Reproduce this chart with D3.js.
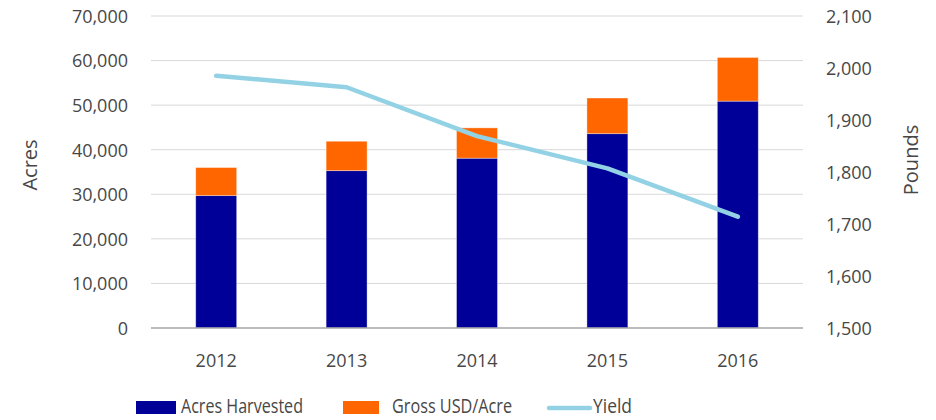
<!DOCTYPE html>
<html>
<head>
<meta charset="utf-8">
<script src="https://cdn.jsdelivr.net/npm/d3@7"></script>
<style>
  body { margin: 0; background: #fff; }
  svg text { font-family: "Open Sans", sans-serif; fill: #474747; }
</style>
</head>
<body>
<svg id="chart" width="936" height="420"></svg>
<script>
// data
const years = ["2012", "2013", "2014", "2015", "2016"];
const acresHarvested = [29700, 35300, 38100, 43600, 50900];
const grossUsdAcre = [6300, 6600, 6800, 8000, 9800];
const yieldLbs = [1985, 1963, 1869, 1807, 1714];
const leftTicks = [0, 10000, 20000, 30000, 40000, 50000, 60000, 70000];
const rightTicks = [1500, 1600, 1700, 1800, 1900, 2000, 2100];

const svg = d3.select('#chart');
const plotL = 151, plotR = 803, plotT = 16, plotB = 328;

const x = d3.scaleBand().domain(years).range([plotL, plotR]).paddingInner(0.686).paddingOuter(0.343);
const yL = d3.scaleLinear().domain([0, 70000]).range([plotB, plotT]);
const yR = d3.scaleLinear().domain([1500, 2100]).range([plotB, plotT]);
const fmt = d3.format(',');

// gridlines
svg.append('g')
  .selectAll('line')
  .data(leftTicks.slice(1))
  .join('line')
  .attr('x1', plotL).attr('x2', plotR)
  .attr('y1', d => yL(d)).attr('y2', d => yL(d))
  .attr('stroke', '#d9d9d9').attr('stroke-width', 1);

// left axis labels
const gl = svg.append('g')
  .attr('transform', `translate(${plotL - 23},0)`)
  .call(d3.axisLeft(yL).tickValues(leftTicks).tickFormat(fmt).tickSize(0));
gl.select('.domain').remove();
gl.selectAll('text').style('font-size', '18px').attr('dy', '0.35em').attr('x', 0);

// right axis labels
const gr = svg.append('g')
  .attr('transform', `translate(${plotR + 23},0)`)
  .call(d3.axisRight(yR).tickValues(rightTicks).tickFormat(fmt).tickSize(0));
gr.select('.domain').remove();
gr.selectAll('text').style('font-size', '18px').attr('dy', '0.35em').attr('x', 0);

// stacked bars
const stackData = years.map((y, i) => ({ year: y, acres: acresHarvested[i], gross: grossUsdAcre[i] }));
const series = d3.stack().keys(['acres', 'gross'])(stackData);
const colors = { acres: '#000099', gross: '#ff6600' };

svg.append('g')
  .selectAll('g')
  .data(series)
  .join('g')
  .attr('fill', d => colors[d.key])
  .selectAll('rect')
  .data(d => d)
  .join('rect')
  .attr('x', d => x(d.data.year))
  .attr('width', x.bandwidth())
  .attr('y', d => yL(d[1]))
  .attr('height', d => yL(d[0]) - yL(d[1]))
  .attr('stroke', 'rgba(255,255,255,0.45)')
  .attr('stroke-width', 0.8);

// baseline
svg.append('line')
  .attr('x1', plotL).attr('x2', plotR)
  .attr('y1', yL(0)).attr('y2', yL(0))
  .attr('stroke', '#a6a6a6').attr('stroke-width', 1.5);

// yield line
const line = d3.line()
  .x((d, i) => x(years[i]) + x.bandwidth() / 2)
  .y(d => yR(d));

svg.append('path')
  .datum(yieldLbs)
  .attr('d', line)
  .attr('fill', 'none')
  .attr('stroke', '#92d2e4')
  .attr('stroke-width', 4.5)
  .attr('stroke-linecap', 'round')
  .attr('stroke-linejoin', 'round');

// x labels
const gx = svg.append('g')
  .attr('transform', `translate(0,${plotB + 33})`)
  .call(d3.axisBottom(x).tickSize(0));
gx.select('.domain').remove();
gx.selectAll('text').style('font-size', '18px').attr('dy', '0.35em').attr('y', 0);

// axis titles
svg.append('text')
  .attr('transform', 'translate(37,165) rotate(-90)')
  .attr('text-anchor', 'middle')
  .style('font-size', '20px')
  .text('Acres');
svg.append('text')
  .attr('transform', 'translate(918,160) rotate(-90)')
  .attr('text-anchor', 'middle')
  .style('font-size', '20px')
  .text('Pounds');

// legend
const legend = svg.append('g');
legend.append('rect').attr('x', 136).attr('y', 401).attr('width', 40).attr('height', 13).attr('fill', '#000099');
legend.append('text').attr('x', 181).attr('y', 413).style('font-size', '20px')
  .attr('textLength', 122).attr('lengthAdjust', 'spacingAndGlyphs').text('Acres Harvested');
legend.append('rect').attr('x', 343).attr('y', 401).attr('width', 36).attr('height', 13).attr('fill', '#ff6600');
legend.append('text').attr('x', 392).attr('y', 413).style('font-size', '20px')
  .attr('textLength', 120).attr('lengthAdjust', 'spacingAndGlyphs').text('Gross USD/Acre');
legend.append('line').attr('x1', 549).attr('x2', 590).attr('y1', 408).attr('y2', 408)
  .attr('stroke', '#92d2e4').attr('stroke-width', 4.5).attr('stroke-linecap', 'round');
legend.append('text').attr('x', 593).attr('y', 413).style('font-size', '20px')
  .attr('textLength', 39).attr('lengthAdjust', 'spacingAndGlyphs').text('Yield');
</script>
</body>
</html>
